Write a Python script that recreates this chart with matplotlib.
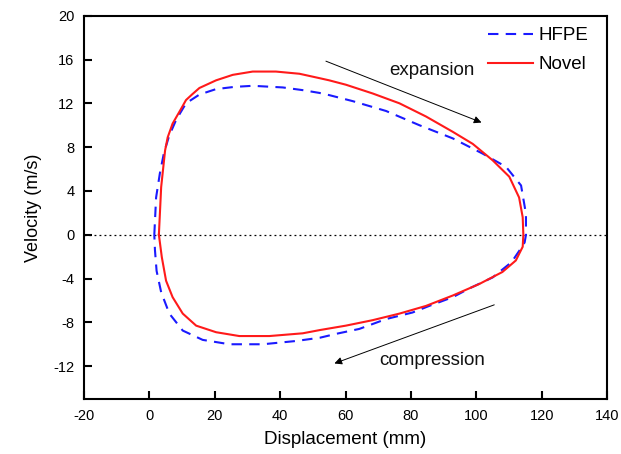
import matplotlib
matplotlib.use("Agg")
import matplotlib.pyplot as plt

plt.rcParams['font.family'] = ['Liberation Sans', 'DejaVu Sans']
plt.rcParams['axes.unicode_minus'] = False

# HFPE (blue dashed) loop
hfpe_x = [1.5, 2.05, 3.2, 4.4, 6.0, 8.2, 11.2, 15.3, 20.4, 26, 31.6, 40.8, 47, 52, 55,
          62.2, 72.4, 82.6, 92.8, 102, 109.1, 113.7, 115.2, 115.2,
          114.8, 113.3, 110.8, 105, 97.9, 92.8, 85.6, 80.5, 72.4, 64.2, 57.1, 52.2,
          44.9, 34.7, 24.5, 16.3, 10.2, 6.1, 3.6, 2.2, 1.7, 1.5]
hfpe_y = [0, 3.4, 5.6, 7.4, 9.0, 10.5, 12.0, 12.8, 13.3, 13.5, 13.6, 13.45, 13.2, 12.95, 12.75,
          12.2, 11.3, 10.0, 8.8, 7.4, 6.2, 4.5, 1.9, 0,
          -0.7, -1.4, -2.5, -3.9, -4.9, -5.7, -6.5, -7.1, -7.7, -8.6, -9.05, -9.4,
          -9.7, -10.0, -10.0, -9.6, -8.75, -7.2, -5.25, -3.3, -1.4, 0]

# Novel (red solid) loop
novel_x = [2.9, 3.6, 4.8, 5.6, 7.1, 9.7, 11.2, 13.2, 15.3, 20.4, 25.5, 31.6, 38.7, 45.9, 52,
           55, 60.1, 68.3, 76.5, 84.6, 92.8, 98.9, 105, 110.1, 113.1, 114.2, 114.4,
           114.2, 112.1, 108, 100.9, 92.8, 84.6, 76.5, 68.3, 60.1, 52.2, 46.9, 36.7,
           27.5, 20.4, 14.3, 10.2, 7.1, 5.1, 3.8, 2.9]
novel_y = [0, 4.35, 7.7, 8.9, 10.15, 11.5, 12.3, 12.85, 13.4, 14.1, 14.6, 14.9, 14.9, 14.7, 14.3,
           14.1, 13.7, 12.9, 12.0, 10.8, 9.4, 8.3, 6.8, 5.3, 3.4, 1.6, 0,
           -1.1, -2.35, -3.4, -4.5, -5.55, -6.5, -7.2, -7.8, -8.3, -8.7, -9.0, -9.25,
           -9.25, -8.9, -8.3, -7.2, -5.7, -4.2, -2.05, 0]

x_ticks = [-20, 0, 20, 40, 60, 80, 100, 120, 140]
y_ticks = [-12, -8, -4, 0, 4, 8, 12, 16, 20]

fig = plt.figure(figsize=(6.21, 4.54), dpi=100)
ax = fig.add_axes([0.1353, 0.1211, 0.8422, 0.8443])

ax.axhline(0, color='black', lw=0.9, ls=(0, (1.5, 2.5)), zorder=1)
ax.plot(hfpe_x, hfpe_y, color='#1a1aff', lw=1.5, dashes=(5, 3.5), label='HFPE', zorder=3)
ax.plot(novel_x, novel_y, color='#ff1a1a', lw=1.5, label='Novel', zorder=4)

ax.annotate('', xy=(101.6, 10.25), xytext=(54, 15.85),
            arrowprops=dict(arrowstyle='-|>', lw=0.7, color='black', mutation_scale=11,
                            shrinkA=0, shrinkB=0))
ax.annotate('', xy=(56.6, -11.75), xytext=(105.5, -6.4),
            arrowprops=dict(arrowstyle='-|>', lw=0.7, color='black', mutation_scale=11,
                            shrinkA=0, shrinkB=0))
ax.text(86.3, 15.0, 'expansion', fontsize=13.5, ha='center', va='center', color='#111111')
ax.text(86.6, -11.5, 'compression', fontsize=13.5, ha='center', va='center', color='#111111')

ax.set_xlim(-20, 140)
ax.set_ylim(-15, 20)
ax.set_xticks(x_ticks)
ax.set_yticks(y_ticks)
ax.tick_params(direction='in', length=5.5, width=1.5, labelsize=10.5, pad=7,
               top=False, right=False, colors='black')
for s in ax.spines.values():
    s.set_linewidth(1.5)

ax.set_xlabel('Displacement (mm)', fontsize=13.5, labelpad=6)
ax.set_ylabel('Velocity (m/s)', fontsize=13, labelpad=8)

leg = ax.legend(loc='upper left', bbox_to_anchor=(0.772, 0.97), frameon=False,
                fontsize=13.5, handlelength=2.4, handletextpad=0.3, borderpad=0,
                borderaxespad=0, labelspacing=0.62)

fig.savefig('out.png', dpi=100)
